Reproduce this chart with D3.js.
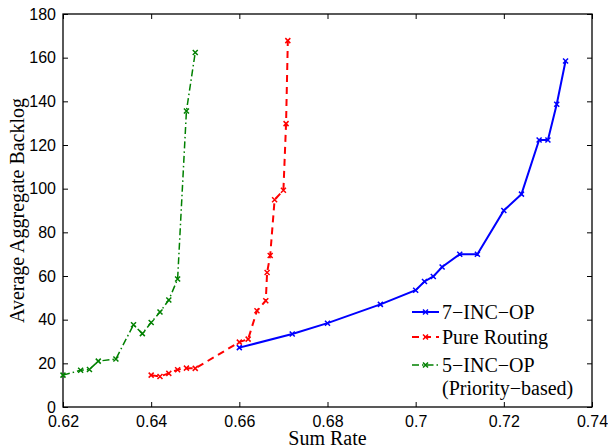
<!DOCTYPE html>
<html>
<head>
<meta charset="utf-8">
<script src="https://cdn.jsdelivr.net/npm/d3@7"></script>
<style>
  body { margin: 0; background: #fff; }
  svg { display: block; }
  .tick text { font-family: "Liberation Sans", Arial, sans-serif; font-size: 16px; fill: #000; }
  .serif { font-family: "Liberation Serif", "Times New Roman", serif; font-size: 20px; fill: #000; }
</style>
</head>
<body>
<svg id="viz"></svg>
<script>
const svg = d3.select("#viz");
const width = 608;
const height = 447;
svg.attr("width", width).attr("height", height);

const margin = { top: 14, right: 16, bottom: 40, left: 63 };
const innerW = width - margin.left - margin.right;
const innerH = height - margin.top - margin.bottom;

// data
const incOp7X = [0.66, 0.672, 0.68, 0.692, 0.70, 0.702, 0.704, 0.706, 0.71, 0.714, 0.72, 0.724, 0.728, 0.73, 0.732, 0.734];
const incOp7Y = [27.2, 33.4, 38.4, 47.0, 53.5, 57.5, 59.8, 64.1, 70.0, 70.0, 90.0, 97.5, 122.3, 122.3, 138.7, 158.5];

const routingX = [0.64, 0.642, 0.644, 0.646, 0.648, 0.65, 0.66, 0.662, 0.664, 0.666, 0.6663, 0.667, 0.668, 0.67, 0.6706, 0.671];
const routingY = [14.6, 14.0, 15.4, 17.1, 17.8, 17.7, 29.7, 31.1, 44.1, 48.7, 61.6, 69.4, 94.9, 99.3, 129.8, 167.8];

const incOp5X = [0.62, 0.624, 0.626, 0.628, 0.632, 0.636, 0.638, 0.64, 0.642, 0.644, 0.646, 0.648, 0.65];
const incOp5Y = [14.6, 16.8, 17.2, 21.0, 22.0, 37.7, 33.6, 38.7, 43.5, 49.0, 58.6, 135.6, 162.4];

const xTicks = [0.62, 0.64, 0.66, 0.68, 0.70, 0.72, 0.74];
const yTicks = [0, 20, 40, 60, 80, 100, 120, 140, 160, 180];

const series = [
  { name: "7\u2212INC\u2212OP", xs: incOp7X, ys: incOp7Y, color: "#0000ff", width: 2, dash: null },
  { name: "Pure Routing", xs: routingX, ys: routingY, color: "#ff0000", width: 2, dash: "7,5" },
  { name: "5\u2212INC\u2212OP", name2: "(Priority\u2212based)", xs: incOp5X, ys: incOp5Y, color: "#008000", width: 1.5, dash: "7,3,1.5,3" }
];

const x = d3.scaleLinear().domain([0.62, 0.74]).range([0, innerW]);
const y = d3.scaleLinear().domain([0, 180]).range([innerH, 0]);

const g = svg.append("g").attr("transform", `translate(${margin.left},${margin.top})`);

// axes, MATLAB style: inward ticks on all four sides
const fmtX = d => String(+d.toFixed(2));
g.append("g").attr("transform", `translate(0,${innerH})`)
  .call(d3.axisBottom(x).tickValues(xTicks).tickSize(-5).tickPadding(9).tickFormat(fmtX));
g.append("g")
  .call(d3.axisTop(x).tickValues(xTicks).tickSize(-5).tickFormat(""));
g.append("g")
  .call(d3.axisLeft(y).tickValues(yTicks).tickSize(-5).tickPadding(7));
g.append("g").attr("transform", `translate(${innerW},0)`)
  .call(d3.axisRight(y).tickValues(yTicks).tickSize(-5).tickFormat(""));
g.selectAll(".domain").remove();
g.selectAll(".tick line").attr("stroke", "#000").attr("stroke-width", 1);

g.append("rect")
  .attr("width", innerW).attr("height", innerH)
  .attr("fill", "none").attr("stroke", "#000").attr("stroke-width", 1.3);

// lines and x markers
const line = d3.line().x(d => x(d[0])).y(d => y(d[1]));

function xMarker(sel, color, s) {
  sel.append("path")
    .attr("d", `M${-s},${-s}L${s},${s}M${-s},${s}L${s},${-s}`)
    .attr("stroke", color).attr("stroke-width", 1.5).attr("fill", "none");
}

series.forEach(sr => {
  const pts = sr.xs.map((v, i) => [v, sr.ys[i]]);
  g.append("path").datum(pts)
    .attr("d", line)
    .attr("fill", "none")
    .attr("stroke", sr.color)
    .attr("stroke-width", sr.width)
    .attr("stroke-dasharray", sr.dash);
  g.selectAll(null).data(pts).enter().append("g")
    .attr("transform", d => `translate(${x(d[0])},${y(d[1])})`)
    .each(function () { xMarker(d3.select(this), sr.color, 2.5); });
});

// legend
const legendRows = [312, 337, 365];
series.forEach((sr, i) => {
  const ly = legendRows[i];
  svg.append("line")
    .attr("x1", 412).attr("x2", 439).attr("y1", ly).attr("y2", ly)
    .attr("stroke", sr.color).attr("stroke-width", sr.width)
    .attr("stroke-dasharray", sr.dash);
  xMarker(svg.append("g").attr("transform", `translate(425.5,${ly})`), sr.color, 2.5);
  svg.append("text").attr("class", "serif")
    .attr("x", 442).attr("y", ly + 7)
    .text(sr.name);
  if (sr.name2) {
    svg.append("text").attr("class", "serif")
      .attr("x", 442).attr("y", ly + 30)
      .text(sr.name2);
  }
});

// axis titles
svg.append("text").attr("class", "serif")
  .attr("x", margin.left + innerW / 2).attr("y", 445)
  .attr("text-anchor", "middle")
  .text("Sum Rate");

svg.append("text").attr("class", "serif")
  .attr("transform", `translate(24,${margin.top + innerH / 2}) rotate(-90)`)
  .attr("text-anchor", "middle")
  .text("Average Aggregate Backlog");
</script>
</body>
</html>
